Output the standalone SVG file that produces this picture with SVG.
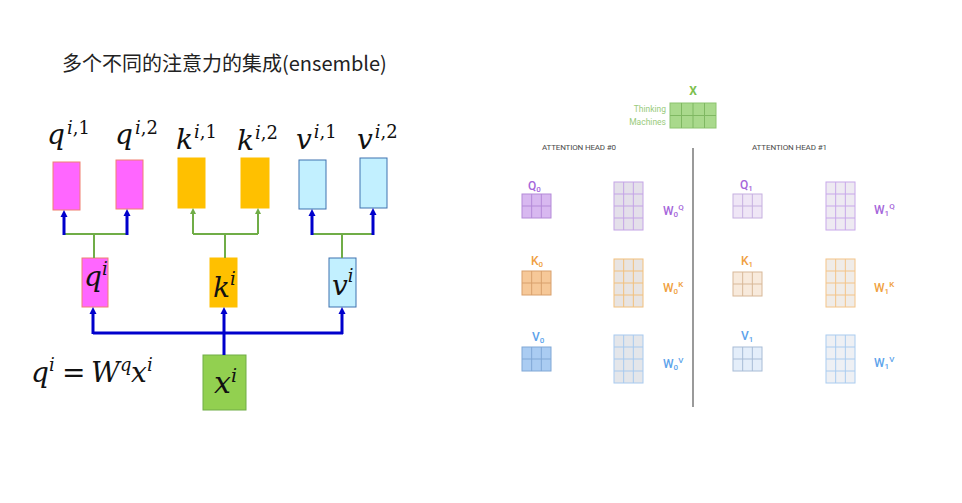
<svg xmlns="http://www.w3.org/2000/svg" width="962" height="503" viewBox="0 0 962 503">
<style>
.m{font-family:"DejaVu Serif",serif;font-style:italic;fill:#111}
.up{font-style:normal}
.title{font-family:"Noto Sans CJK SC","Noto Sans",sans-serif;font-size:20px;fill:#222}
.lb{font-family:Roboto,"Liberation Sans",sans-serif;font-weight:500;font-size:12px}
.sub{font-size:8px}
.hd{font-family:Roboto,"Liberation Sans",sans-serif;font-size:8px;fill:#4a4a4a}
.blue{stroke:#0000CC;stroke-width:3;fill:none}
.green{stroke:#70AD47;stroke-width:2;fill:none}
.mag{fill:#FF66FF;stroke:#F08070;stroke-width:1}
.org{fill:#FFC000;stroke:#FFC000;stroke-width:1}
.cyan{fill:#C2F0FF;stroke:#3F72AF;stroke-width:1}
.grn{fill:#92D050;stroke:#70AD47;stroke-width:1}
.pur{fill:#A566DA}
.ora{fill:#F0A040}
.blu{fill:#5DA3EB}
</style>
<defs>
<marker id="ab" markerUnits="userSpaceOnUse" markerWidth="8" markerHeight="8" refX="1" refY="4" orient="auto"><path d="M0,0.5 L7,4 L0,7.5z" fill="#0000CC"/></marker>
<marker id="ag" markerUnits="userSpaceOnUse" markerWidth="7" markerHeight="7" refX="1" refY="3.5" orient="auto"><path d="M0,0.5 L6,3.5 L0,6.5z" fill="#70AD47"/></marker>
<g id="s32"><rect width="29" height="24"/><path d="M9.67,0V24M19.33,0V24M0,12H29" fill="none"/></g>
<g id="s34"><rect width="29" height="48"/><path d="M9.67,0V48M19.33,0V48M0,12H29M0,24H29M0,36H29" fill="none"/></g>
</defs>
<rect width="962" height="503" fill="#fff"/>

<text class="title" x="62" y="71">多个不同的注意力的集成(ensemble)</text>

<g id="q1"><rect class="mag" x="53" y="162" width="27" height="48"/>
<text class="m" x="47" y="144" font-size="28">q<tspan font-size="18" dx="2" dy="-10">i<tspan class="up">,1</tspan></tspan></text></g>
<g id="q2"><rect class="mag" x="116" y="160" width="27" height="49"/>
<text class="m" x="115" y="144" font-size="28">q<tspan font-size="18" dx="2" dy="-10">i<tspan class="up">,2</tspan></tspan></text></g>
<g id="k1"><rect class="org" x="178" y="158" width="27" height="50"/>
<text class="m" x="176" y="149" font-size="28">k<tspan font-size="18" dx="1" dy="-11">i<tspan class="up">,1</tspan></tspan></text></g>
<g id="k2"><rect class="org" x="241" y="158" width="28" height="50"/>
<text class="m" x="237" y="150" font-size="28">k<tspan font-size="18" dx="1" dy="-11">i<tspan class="up">,2</tspan></tspan></text></g>
<g id="v1"><rect class="cyan" x="299" y="160" width="27" height="49"/>
<text class="m" x="296" y="149" font-size="28">v<tspan font-size="18" dx="2" dy="-11">i<tspan class="up">,1</tspan></tspan></text></g>
<g id="v2"><rect class="cyan" x="360" y="158" width="27" height="50"/>
<text class="m" x="357" y="149" font-size="28">v<tspan font-size="18" dx="2" dy="-11">i<tspan class="up">,2</tspan></tspan></text></g>

<g id="qi"><rect class="mag" x="82" y="258" width="26" height="49"/>
<text class="m" x="84" y="286" font-size="28">q<tspan font-size="18" dy="-11">i</tspan></text></g>
<g id="ki"><rect class="org" x="210" y="258" width="27" height="49"/>
<text class="m" x="213" y="297" font-size="28">k<tspan font-size="18" dy="-12">i</tspan></text></g>
<g id="vi"><rect class="cyan" x="329" y="258" width="27" height="49"/>
<text class="m" x="332" y="295" font-size="28">v<tspan font-size="18" dy="-13">i</tspan></text></g>
<g id="xi"><rect class="grn" x="203" y="355" width="43" height="55"/>
<text class="m" x="214" y="393" font-size="30">x<tspan font-size="19" dy="-11">i</tspan></text></g>

<g id="formula"><text class="m" y="382" font-size="28"><tspan x="31">q</tspan><tspan x="49" dy="-11" font-size="18">i</tspan><tspan class="up" x="62" dy="11">=</tspan><tspan x="91">W</tspan><tspan x="120" dy="-11" font-size="18">q</tspan><tspan x="131" dy="11">x</tspan><tspan x="147" dy="-11" font-size="18">i</tspan></text></g>

<g id="connectors">
<path class="green" d="M64,234H127M94,234V258M193,234H258M225,234V258M312,234H373M342,234V258"/>
<path class="green" marker-end="url(#ag)" d="M193,234V213"/>
<path class="green" marker-end="url(#ag)" d="M258,234V213"/>
<path class="blue" marker-end="url(#ab)" d="M64,235V216"/>
<path class="blue" marker-end="url(#ab)" d="M127,235V215"/>
<path class="blue" marker-end="url(#ab)" d="M312,235V215"/>
<path class="blue" marker-end="url(#ab)" d="M373,235V214"/>
<path class="blue" d="M93,333H343"/>
<path class="blue" marker-end="url(#ab)" d="M93,334V313"/>
<path class="blue" marker-end="url(#ab)" d="M342,334V313"/>
<path class="blue" marker-end="url(#ab)" d="M224,355V313"/>
</g>

<g id="X">
<text x="693" y="95" text-anchor="middle" font-family="Roboto,'Liberation Sans',sans-serif" font-weight="bold" font-size="12" fill="#7DC04E">X</text>
<text x="666" y="112" text-anchor="end" font-family="Roboto,'Liberation Sans',sans-serif" font-size="8.5" fill="#9ACB7C">Thinking</text>
<text x="666" y="125" text-anchor="end" font-family="Roboto,'Liberation Sans',sans-serif" font-size="8.5" fill="#9ACB7C">Machines</text>
<rect x="670" y="103" width="46" height="25" fill="#A9D98C" stroke="#8CC46E"/>
<path d="M681.5,103V128M693,103V128M704.5,103V128M670,115.5H716" stroke="#7FB862" fill="none"/>
</g>

<g id="divider"><path d="M693,148V407" stroke="#9a9a9a" stroke-width="2"/></g>

<g id="head0">
<text class="hd" x="542" y="150" textLength="74">ATTENTION HEAD #0</text>
<text class="lb pur" x="528" y="190">Q<tspan class="sub" dy="2">0</tspan></text>
<use href="#s32" x="522" y="194" fill="#D8B8F0" stroke="#B48AD8"/>
<use href="#s34" x="614" y="182" fill="#E4E0EA" stroke="#C4A4E6"/>
<text class="lb pur" x="663" y="215">W<tspan class="sub" dy="2">0</tspan><tspan class="sub" dy="-7">Q</tspan></text>
<text class="lb ora" x="531" y="265">K<tspan class="sub" dy="2">0</tspan></text>
<use href="#s32" x="522" y="271" fill="#F6C898" stroke="#D8A06C"/>
<use href="#s34" x="614" y="259" fill="#E8E4E2" stroke="#F2C07C"/>
<text class="lb ora" x="663" y="292">W<tspan class="sub" dy="2">0</tspan><tspan class="sub" dy="-7">K</tspan></text>
<text class="lb blu" x="532" y="341">V<tspan class="sub" dy="2">0</tspan></text>
<use href="#s32" x="522" y="347" fill="#AACCF2" stroke="#80A8D6"/>
<use href="#s34" x="614" y="335" fill="#E4E6EA" stroke="#A8CAEF"/>
<text class="lb blu" x="663" y="368">W<tspan class="sub" dy="2">0</tspan><tspan class="sub" dy="-7">V</tspan></text>
</g>

<g id="head1">
<text class="hd" x="752" y="150" textLength="75">ATTENTION HEAD #1</text>
<text class="lb pur" x="740" y="189">Q<tspan class="sub" dy="2">1</tspan></text>
<use href="#s32" x="733" y="194" fill="#EFE6F6" stroke="#C6B0E0"/>
<use href="#s34" x="826" y="182" fill="#EEEAF2" stroke="#C8A8EA"/>
<text class="lb pur" x="874" y="214">W<tspan class="sub" dy="2">1</tspan><tspan class="sub" dy="-7">Q</tspan></text>
<text class="lb ora" x="741" y="265">K<tspan class="sub" dy="2">1</tspan></text>
<use href="#s32" x="733" y="272" fill="#F8EADC" stroke="#D8B898"/>
<use href="#s34" x="826" y="259" fill="#F0ECE8" stroke="#F4C488"/>
<text class="lb ora" x="874" y="292">W<tspan class="sub" dy="2">1</tspan><tspan class="sub" dy="-7">K</tspan></text>
<text class="lb blu" x="741" y="340">V<tspan class="sub" dy="2">1</tspan></text>
<use href="#s32" x="733" y="347" fill="#E4EEFA" stroke="#A8BCD6"/>
<use href="#s34" x="826" y="335" fill="#EEF0F4" stroke="#AACCF0"/>
<text class="lb blu" x="874" y="367">W<tspan class="sub" dy="2">1</tspan><tspan class="sub" dy="-7">V</tspan></text>
</g>
</svg>
